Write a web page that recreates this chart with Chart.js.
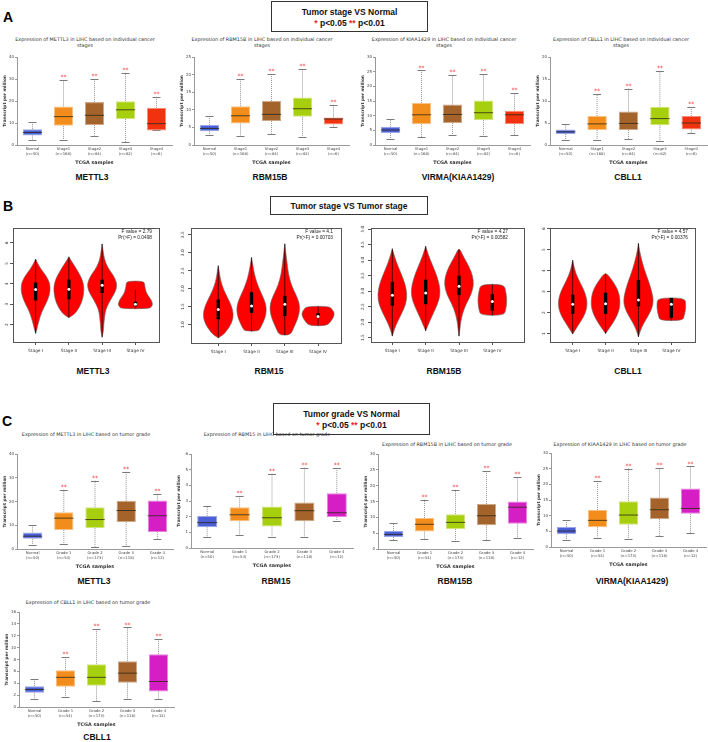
<!DOCTYPE html>
<html>
<head>
<meta charset="utf-8">
<script src="https://cdn.jsdelivr.net/npm/chart.js@4.4.1/dist/chart.umd.min.js"></script>
<style>
  html, body { margin: 0; padding: 0; background: #fff; }
  body { position: relative; width: 708px; height: 742px; overflow: hidden; font-family: "Liberation Sans", Arial, sans-serif; }
  canvas { position: absolute; }
  .t { position: absolute; white-space: nowrap; transform: translate(-50%, -50%); }
  .letter { font-weight: bold; font-size: 14px; transform: none; }
  .tbox { position: absolute; border: 1.5px solid #333; box-sizing: border-box; }
  .tb { font-weight: bold; font-size: 8.5px; color: #111; }
  .red { color: #f0262b; }
  .gene { font-weight: bold; font-size: 8.5px; color: #111; }
  .ttl { font-family: "DejaVu Sans", sans-serif; font-size: 4.9px; color: #333; text-align: center; line-height: 6px; }
  .fv { position: absolute; font-size: 4.8px; color: #222; text-align: right; line-height: 6px; transform: translateX(-100%); white-space: nowrap; }
</style>
</head>
<body>
<script>
// ---------- data ----------
const stageLabels = [['Normal', '(n=50)'], ['Stage1', '(n=168)'], ['Stage2', '(n=84)'], ['Stage3', '(n=82)'], ['Stage4', '(n=6)']];
const gradeLabels = [['Normal', '(n=50)'], ['Grade 1', '(n=54)'], ['Grade 2', '(n=173)'], ['Grade 3', '(n=118)'], ['Grade 4', '(n=12)']];
const violinStages = ['Stage I', 'Stage II', 'Stage III', 'Stage IV'];

// box rows: [min, q1, median, q3, max]
const aMettl3 = [[2.2, 4.3, 5.7, 7.2, 10.5], [2.1, 8.7, 12.9, 17.5, 29.5], [4.3, 9.1, 13.5, 19.5, 30], [1.2, 11.8, 16, 19.9, 32.8], [6.6, 6.6, 9.7, 16.9, 22]];
const aRbm15b = [[2.8, 3.9, 4.7, 5.7, 8.2], [2.6, 6.1, 8.3, 11, 18.7], [3.2, 6.8, 8.7, 12.5, 20.2], [2.4, 8, 10.3, 13.5, 21.5], [5, 5.8, 7.4, 7.8, 11.4]];
const aVirma = [[2.2, 4.1, 5.1, 6.2, 8.8], [2.6, 7.1, 10.3, 14.3, 25.4], [3.3, 7.5, 10.4, 13.8, 23.8], [3.1, 8.5, 11, 15.2, 24.2], [3.3, 7.1, 10.3, 11.7, 17.6]];
const aCbll1 = [[1.2, 2.5, 3, 3.5, 4.8], [1.2, 3.4, 4.8, 6.6, 11.6], [1.4, 3.4, 4.9, 7.6, 12.8], [1, 4.5, 6, 8.7, 16.8], [2.8, 3.5, 5, 6.6, 8.7]];

const cMettl3 = [[1.8, 4.3, 5.4, 7, 10.3], [2, 8, 13, 15.5, 25], [0.8, 8.8, 12.4, 17.6, 28.8], [1.3, 11.3, 16.2, 20.3, 32.5], [4.3, 7.2, 14, 20.4, 23.2]];
const cRbm15 = [[0.72, 1.32, 1.62, 2.05, 2.7], [0.85, 1.7, 2.12, 2.6, 3.35], [0.72, 1.38, 1.93, 2.65, 4.75], [0.72, 1.7, 2.38, 2.9, 5.12], [1.75, 1.98, 2.25, 3.5, 5.1]];
const cRbm15b = [[2.8, 3.8, 4.6, 5.7, 8.1], [3.2, 5.5, 7.8, 9.8, 15.6], [2.5, 6.3, 8.4, 11, 18.7], [2.8, 7.5, 10.5, 14.2, 24.6], [3.4, 8, 13.2, 15, 22.6]];
const cVirma = [[2.2, 4.1, 5.1, 6.4, 8.7], [3.0, 6.3, 8.5, 11.8, 21], [2.6, 7.1, 10.2, 14.6, 25], [3.5, 8.9, 11.9, 15.8, 25.2], [4.4, 10.6, 12.3, 18.7, 25.7]];
const cCbll1 = [[1.3, 2.4, 2.95, 3.5, 4.8], [1.7, 3.4, 5, 6.2, 8.5], [1, 3.6, 5, 7.2, 13.2], [1.3, 4.1, 5.7, 7.7, 13.4], [1.3, 2.6, 4.3, 8.9, 11.5]];

// violin stats: [min, q1, median, q3, max]
const bMettl3 = [[1.57, 3.18, 3.72, 4.06, 5.21], [2.34, 3.24, 3.73, 4.2, 5.32], [1.38, 3.55, 3.93, 4.2, 5.95], [2.78, 2.9, 3.0, 3.12, 3.7]];
const bRbm15 = [[0.63, 1.15, 1.42, 1.7, 2.64], [0.82, 1.33, 1.52, 1.9, 2.87], [0.71, 1.24, 1.57, 1.8, 3.25], [0.97, 1.2, 1.23, 1.32, 1.51]];
const bRbm15b = [[1.55, 2.53, 2.87, 3.3, 4.37], [1.72, 2.58, 2.94, 3.37, 4.45], [1.55, 2.87, 3.16, 3.5, 4.35], [2.22, 2.37, 2.67, 2.9, 3.22]];
const bCbll1 = [[0.98, 1.94, 2.4, 2.85, 4.5], [1.0, 1.94, 2.42, 2.95, 3.85], [0.84, 2.3, 2.6, 3.55, 5.3], [1.62, 1.75, 2.4, 2.7, 2.7]];

// violin outlines: [levels, half widths] per stage
const bMettl3Shape = [
  [[5.21, 5.0, 4.7, 4.4, 4.1, 3.8, 3.5, 3.2, 2.9, 2.6, 2.3, 2.0, 1.8, 1.57], [0, 0.06, 0.17, 0.31, 0.41, 0.44, 0.42, 0.36, 0.27, 0.18, 0.12, 0.07, 0.04, 0]],
  [[5.32, 5.1, 4.8, 4.5, 4.2, 3.9, 3.6, 3.3, 3.0, 2.7, 2.5, 2.34], [0, 0.08, 0.2, 0.31, 0.4, 0.45, 0.45, 0.42, 0.36, 0.26, 0.16, 0]],
  [[5.95, 5.6, 5.3, 5.0, 4.7, 4.4, 4.1, 3.8, 3.5, 3.2, 2.9, 2.6, 2.3, 2.0, 1.7, 1.38], [0, 0.03, 0.06, 0.11, 0.21, 0.34, 0.43, 0.44, 0.36, 0.25, 0.15, 0.09, 0.07, 0.05, 0.04, 0]],
  [[4.13, 3.9, 3.6, 3.4, 3.2, 3.0, 2.9, 2.78], [0.27, 0.28, 0.32, 0.39, 0.48, 0.52, 0.49, 0.43]]
];
const bRbm15Shape = [
  [[2.64, 2.4, 2.2, 2.0, 1.8, 1.6, 1.4, 1.2, 1.0, 0.85, 0.72, 0.63], [0, 0.04, 0.08, 0.15, 0.25, 0.36, 0.44, 0.45, 0.38, 0.27, 0.15, 0]],
  [[2.87, 2.6, 2.4, 2.2, 2.0, 1.8, 1.6, 1.4, 1.2, 1.0, 0.9, 0.82], [0, 0.05, 0.09, 0.15, 0.23, 0.33, 0.42, 0.45, 0.41, 0.32, 0.26, 0.2]],
  [[3.25, 3.0, 2.7, 2.4, 2.1, 1.9, 1.7, 1.5, 1.3, 1.1, 0.9, 0.71], [0, 0.03, 0.07, 0.11, 0.2, 0.3, 0.4, 0.45, 0.43, 0.36, 0.26, 0.17]],
  [[1.51, 1.42, 1.32, 1.22, 1.1, 0.97], [0.34, 0.43, 0.49, 0.47, 0.39, 0.27]]
];
const bRbm15bShape = [
  [[4.37, 4.1, 3.8, 3.5, 3.2, 2.9, 2.6, 2.3, 2.0, 1.8, 1.55], [0, 0.07, 0.17, 0.29, 0.39, 0.44, 0.41, 0.29, 0.15, 0.07, 0]],
  [[4.45, 4.2, 3.9, 3.6, 3.3, 3.0, 2.7, 2.4, 2.1, 1.9, 1.72], [0, 0.07, 0.18, 0.3, 0.39, 0.44, 0.4, 0.28, 0.15, 0.07, 0]],
  [[4.35, 4.1, 3.8, 3.5, 3.2, 2.9, 2.6, 2.3, 2.0, 1.8, 1.55], [0.03, 0.14, 0.3, 0.41, 0.44, 0.37, 0.22, 0.11, 0.05, 0.03, 0]],
  [[3.22, 3.0, 2.8, 2.6, 2.4, 2.22], [0.35, 0.4, 0.43, 0.43, 0.4, 0.35]]
];
const bCbll1Shape = [
  [[4.5, 4.2, 3.9, 3.6, 3.3, 3.0, 2.7, 2.4, 2.1, 1.8, 1.5, 1.2, 0.98], [0, 0.04, 0.09, 0.17, 0.27, 0.36, 0.42, 0.44, 0.41, 0.33, 0.21, 0.09, 0]],
  [[3.85, 3.6, 3.3, 3.0, 2.7, 2.4, 2.1, 1.8, 1.5, 1.2, 1.0], [0.05, 0.17, 0.3, 0.39, 0.43, 0.44, 0.41, 0.33, 0.22, 0.09, 0]],
  [[5.3, 4.9, 4.5, 4.1, 3.7, 3.3, 2.9, 2.6, 2.3, 2.0, 1.7, 1.4, 1.1, 0.84], [0, 0.04, 0.1, 0.17, 0.26, 0.35, 0.42, 0.45, 0.43, 0.35, 0.24, 0.13, 0.05, 0]],
  [[2.7, 2.4, 2.1, 1.85, 1.62], [0.41, 0.44, 0.43, 0.39, 0.35]]
];

// ---------- styles ----------
const BLUE = '#4b5fd6', ORANGE = '#f28d1c', BROWN = '#a4632b', LIME = '#a8cf0e', RED = '#f1320f', MAGENTA = '#d51fc5';
const stageColors = [BLUE, ORANGE, BROWN, LIME, RED];
const gradeColors = [BLUE, ORANGE, LIME, BROWN, MAGENTA];

Chart.defaults.font.family = '"DejaVu Sans", sans-serif';
Chart.defaults.animation = false;

function lighten(hex, k) {
  const n = parseInt(hex.slice(1), 16);
  const c = [n >> 16, (n >> 8) & 255, n & 255].map(v => Math.round(v + (255 - v) * k));
  return 'rgb(' + c.join(',') + ')';
}

// whiskers, caps, medians and ** marks from the box stats
const boxPlot = {
  id: 'boxPlot',
  beforeDatasetsDraw(chart) {
    const rows = chart.data.datasets[0].stats;
    const x = chart.scales.x, y = chart.scales.y, ctx = chart.ctx;
    ctx.save();
    ctx.strokeStyle = '#7a7a7a';
    rows.forEach((r, i) => {
      const cx = x.getPixelForValue(i);
      ctx.lineWidth = 0.8;
      ctx.setLineDash([1, 1]);
      ctx.beginPath();
      ctx.moveTo(cx, y.getPixelForValue(r[3]));
      ctx.lineTo(cx, y.getPixelForValue(r[4]));
      ctx.moveTo(cx, y.getPixelForValue(r[1]));
      ctx.lineTo(cx, y.getPixelForValue(r[0]));
      ctx.stroke();
      ctx.setLineDash([]);
      ctx.lineWidth = 1;
      ctx.beginPath();
      [r[0], r[4]].forEach(v => {
        const py = Math.round(y.getPixelForValue(v)) + 0.5;
        ctx.moveTo(cx - 4, py);
        ctx.lineTo(cx + 4, py);
      });
      ctx.stroke();
    });
    ctx.restore();
  },
  afterDatasetsDraw(chart) {
    const rows = chart.data.datasets[0].stats;
    const x = chart.scales.x, y = chart.scales.y, ctx = chart.ctx;
    const bars = chart.getDatasetMeta(0).data;
    ctx.save();
    rows.forEach((r, i) => {
      const cx = x.getPixelForValue(i), hw = bars[i].width / 2;
      const py = y.getPixelForValue(r[2]);
      ctx.strokeStyle = 'rgba(45,40,20,0.8)';
      ctx.lineWidth = 1;
      ctx.beginPath();
      ctx.moveTo(cx - hw, py);
      ctx.lineTo(cx + hw, py);
      ctx.stroke();
      if (i > 0) {
        ctx.fillStyle = '#f0262b';
        ctx.font = '6px "DejaVu Sans"';
        ctx.textAlign = 'center';
        ctx.textBaseline = 'middle';
        ctx.fillText('**', cx, y.getPixelForValue(r[4]) - 2.5);
      }
    });
    ctx.restore();
  }
};

function makeBox(g, rows, labels, colors, yMax, yStep) {
  const yW = 15, xH = 21, padT = 10, padR = 3;
  const cv = document.createElement('canvas');
  cv.width = yW + g.w + padR;
  cv.height = padT + (g.bottom - g.top) + xH;
  cv.style.left = (g.left - yW) + 'px';
  cv.style.top = (g.top - padT) + 'px';
  document.body.appendChild(cv);
  new Chart(cv, {
    type: 'bar',
    data: {
      labels: labels,
      datasets: [{
        data: rows.map(r => [r[1], r[3]]),
        stats: rows,
        backgroundColor: colors,
        borderColor: colors.map(c => lighten(c, 0.45)),
        borderWidth: 1,
        borderSkipped: false,
        barPercentage: 0.62,
        categoryPercentage: 1
      }]
    },
    options: {
      responsive: false,
      animation: false,
      layout: { padding: { top: padT, right: padR, left: 0, bottom: 0 } },
      plugins: { legend: { display: false }, tooltip: { enabled: false } },
      scales: {
        x: {
          grid: { drawOnChartArea: false, drawTicks: false },
          border: { color: '#9a9a9a' },
          ticks: { font: { size: 3.8 }, color: '#444', padding: 2, maxRotation: 0, autoSkip: false },
          title: { display: true, text: 'TCGA samples', font: { size: 4.8, weight: 'bold' }, color: '#333', padding: 0 },
          afterFit: s => { s.height = xH; }
        },
        y: {
          min: 0, max: yMax,
          grid: { drawOnChartArea: false, tickLength: 2, color: '#9a9a9a' },
          border: { color: '#9a9a9a' },
          ticks: { stepSize: yStep, font: { size: 4 }, color: '#444', padding: 1 },
          title: { display: true, text: 'Transcript per million', font: { size: 4.3, weight: 'bold' }, color: '#333', padding: 0 },
          afterFit: s => { s.width = yW; }
        }
      }
    },
    plugins: [boxPlot]
  });
}

// violin outlines, whisker line and IQR bar
function smoothPath(ctx, p) {
  const n = p.length;
  const mid = (a, b) => [(a[0] + b[0]) / 2, (a[1] + b[1]) / 2];
  const m0 = mid(p[n - 1], p[0]);
  ctx.beginPath();
  ctx.moveTo(m0[0], m0[1]);
  for (let k = 0; k < n; k++) {
    const m = mid(p[k], p[(k + 1) % n]);
    ctx.quadraticCurveTo(p[k][0], p[k][1], m[0], m[1]);
  }
  ctx.closePath();
}

const violinPlot = {
  id: 'violinPlot',
  beforeDatasetsDraw(chart) {
    const ds = chart.data.datasets[0];
    const x = chart.scales.x, y = chart.scales.y, ctx = chart.ctx;
    ctx.save();
    ds.shapes.forEach((sh, i) => {
      const c = i + 1, lev = sh[0], hw = sh[1];
      const pts = [];
      lev.forEach((v, k) => pts.push([x.getPixelForValue(c - hw[k]), y.getPixelForValue(v)]));
      for (let k = lev.length - 1; k >= 0; k--) pts.push([x.getPixelForValue(c + hw[k]), y.getPixelForValue(lev[k])]);
      smoothPath(ctx, pts);
      ctx.fillStyle = '#ff0000';
      ctx.fill();
      ctx.strokeStyle = '#666';
      ctx.lineWidth = 0.6;
      ctx.stroke();
      const st = ds.stats[i], px = x.getPixelForValue(c);
      ctx.strokeStyle = '#000';
      ctx.lineWidth = 0.7;
      ctx.beginPath();
      ctx.moveTo(px, y.getPixelForValue(st[0]));
      ctx.lineTo(px, y.getPixelForValue(st[4]));
      ctx.stroke();
      ctx.fillStyle = '#000';
      const t = y.getPixelForValue(st[3]), b = y.getPixelForValue(st[1]);
      ctx.fillRect(px - 1.7, t, 3.4, b - t);
    });
    ctx.restore();
  },
  afterDraw(chart) {
    const a = chart.chartArea, ctx = chart.ctx;
    ctx.save();
    ctx.strokeStyle = '#555';
    ctx.lineWidth = 1;
    ctx.strokeRect(Math.round(a.left) + 0.5, Math.round(a.top) + 0.5, Math.round(a.right - a.left), Math.round(a.bottom - a.top));
    ctx.restore();
  }
};

function makeViolin(g, stats, shapes, xr, yr, yt, dec) {
  const yW = 12, xH = 16, padT = 2, padR = 2;
  const cv = document.createElement('canvas');
  cv.width = yW + (g.right - g.left) + padR;
  cv.height = padT + (g.bottom - g.top) + xH;
  cv.style.left = (g.left - yW) + 'px';
  cv.style.top = (g.top - padT) + 'px';
  document.body.appendChild(cv);
  new Chart(cv, {
    type: 'scatter',
    data: {
      datasets: [{
        data: stats.map((s, i) => ({ x: i + 1, y: s[2] })),
        stats: stats,
        shapes: shapes,
        pointRadius: 1.5,
        pointBackgroundColor: '#fff',
        pointBorderWidth: 0
      }]
    },
    options: {
      responsive: false,
      animation: false,
      layout: { padding: { top: padT, right: padR, left: 0, bottom: 0 } },
      plugins: { legend: { display: false }, tooltip: { enabled: false } },
      scales: {
        x: {
          type: 'linear', min: xr[0], max: xr[1],
          afterBuildTicks: s => { s.ticks = [1, 2, 3, 4].map(v => ({ value: v })); },
          grid: { drawOnChartArea: false, tickLength: 3, color: '#555' },
          border: { display: false },
          ticks: { callback: v => violinStages[v - 1], font: { size: 4.3 }, color: '#333', padding: 3, autoSkip: false, maxRotation: 0 },
          afterFit: s => { s.height = xH; }
        },
        y: {
          min: yr[0], max: yr[1],
          afterBuildTicks: s => { s.ticks = yt.map(v => ({ value: v })); },
          grid: { drawOnChartArea: false, tickLength: 3, color: '#555' },
          border: { display: false },
          ticks: { callback: v => v.toFixed(dec), font: { size: 4.3 }, color: '#333', padding: 2, minRotation: 90, maxRotation: 90, crossAlign: 'center', autoSkip: false },
          afterFit: s => { s.width = yW; }
        }
      }
    },
    plugins: [violinPlot]
  });
}

// ---------- HTML text ----------
function txt(cls, html, x, y) {
  const d = document.createElement('div');
  d.className = 't ' + cls;
  d.innerHTML = html;
  d.style.left = x + 'px';
  d.style.top = y + 'px';
  document.body.appendChild(d);
}
function letter(ch, x, y) {
  const d = document.createElement('div');
  d.className = 't letter';
  d.textContent = ch;
  d.style.left = x + 'px';
  d.style.top = y + 'px';
  document.body.appendChild(d);
}
function tbox(x, y, w, h, lines) {
  const d = document.createElement('div');
  d.className = 'tbox';
  Object.assign(d.style, { left: x + 'px', top: y + 'px', width: w + 'px', height: h + 'px' });
  document.body.appendChild(d);
  lines.forEach((l, k) => txt('tb', l, x + w / 2, y + (lines.length === 1 ? h / 2 : 11 + k * 11)));
}
function fv(lines, x, y) {
  const d = document.createElement('div');
  d.className = 'fv';
  d.innerHTML = lines.join('<br>');
  d.style.left = x + 'px';
  d.style.top = y + 'px';
  document.body.appendChild(d);
}
const sig = '<span class="red">*</span> p&lt;0.05 <span class="red">**</span> p&lt;0.01';

// panel A
letter('A', 3, 9);
tbox(271, 1, 157, 31, ['Tumor stage VS Normal', sig]);
txt('ttl', 'Expression of METTL3 in LIHC based on individual cancer<br>stages', 85, 42);
txt('ttl', 'Expression of RBM15B in LIHC based on individual cancer<br>stages', 262, 42);
txt('ttl', 'Expression of KIAA1429 in LIHC based on individual cancer<br>stages', 444, 42);
txt('ttl', 'Expression of CBLL1 in LIHC based on individual cancer<br>stages', 621, 42);
makeBox({ left: 16.5, w: 155, top: 57, bottom: 145 }, aMettl3, stageLabels, stageColors, 40, 10);
makeBox({ left: 193.8, w: 155, top: 57, bottom: 145 }, aRbm15b, stageLabels, stageColors, 25, 5);
makeBox({ left: 374.5, w: 155, top: 57, bottom: 145 }, aVirma, stageLabels, stageColors, 30, 5);
makeBox({ left: 550, w: 157, top: 57, bottom: 145 }, aCbll1, stageLabels, stageColors, 20, 5);
txt('gene', 'METTL3', 92, 177);
txt('gene', 'RBM15B', 270, 177);
txt('gene', 'VIRMA(KIAA1429)', 458, 177);
txt('gene', 'CBLL1', 628, 177);

// panel B
letter('B', 3, 198);
tbox(270, 196, 158, 19, ['Tumor stage VS Tumor stage']);
makeViolin({ left: 13, right: 161, top: 225, bottom: 342 }, bMettl3, bMettl3Shape, [0.32, 4.71], [1.15, 6.75], [2, 3, 4, 5, 6], 0);
makeViolin({ left: 191, right: 343, top: 225, bottom: 343 }, bRbm15, bRbm15Shape, [0.18, 4.69], [0.49, 3.70], [1, 1.5, 2, 2.5, 3, 3.5], 1);
makeViolin({ left: 371, right: 526, top: 225, bottom: 342 }, bRbm15b, bRbm15bShape, [0.36, 4.95], [1.36, 5.05], [1.5, 2, 2.5, 3, 3.5, 4, 4.5, 5], 1);
makeViolin({ left: 550, right: 697, top: 225, bottom: 342 }, bCbll1, bCbll1Shape, [0.31, 4.72], [0.6, 6.05], [1, 2, 3, 4, 5, 6], 0);
fv(['F value = 2.79', 'Pr(&gt;F) = 0.0498'], 152, 229);
fv(['F value = 4.1', 'Pr(&gt;F) = 0.00703'], 333, 229);
fv(['F value = 4.27', 'Pr(&gt;F) = 0.00582'], 508, 229);
fv(['F value = 4.57', 'Pr(&gt;F) = 0.00376'], 688, 229);
txt('gene', 'METTL3', 93, 371);
txt('gene', 'RBM15', 269, 371);
txt('gene', 'RBM15B', 444, 371);
txt('gene', 'CBLL1', 628, 371);

// panel C
letter('C', 2, 413);
tbox(273, 403, 157, 32, ['Tumor grade VS Normal', sig]);
txt('ttl', 'Expression of METTL3 in LIHC based on tumor grade', 86, 434);
txt('ttl', 'Expression of RBM15 in LIHC based on tumor grade', 267, 434);
txt('ttl', 'Expression of RBM15B in LIHC based on tumor grade', 447, 444);
txt('ttl', 'Expression of KIAA1429 in LIHC based on tumor grade', 620, 444);
txt('ttl', 'Expression of CBLL1 in LIHC based on tumor grade', 88, 602);
makeBox({ left: 17, w: 156, top: 453.5, bottom: 548.7 }, cMettl3, gradeLabels, gradeColors, 40, 10);
makeBox({ left: 191, w: 162, top: 454, bottom: 548.7 }, cRbm15, gradeLabels, gradeColors, 6, 1);
makeBox({ left: 377.5, w: 155, top: 454, bottom: 549.3 }, cRbm15b, gradeLabels, gradeColors, 30, 5);
makeBox({ left: 551.2, w: 155, top: 453.3, bottom: 548.3 }, cVirma, gradeLabels, gradeColors, 30, 5);
makeBox({ left: 18.5, w: 155, top: 612.3, bottom: 707.3 }, cCbll1, gradeLabels, gradeColors, 16, 2);
txt('gene', 'METTL3', 94, 581);
txt('gene', 'RBM15', 276, 581);
txt('gene', 'RBM15B', 455, 581);
txt('gene', 'VIRMA(KIAA1429)', 632, 581);
txt('gene', 'CBLL1', 97, 737);
</script>
</body>
</html>
